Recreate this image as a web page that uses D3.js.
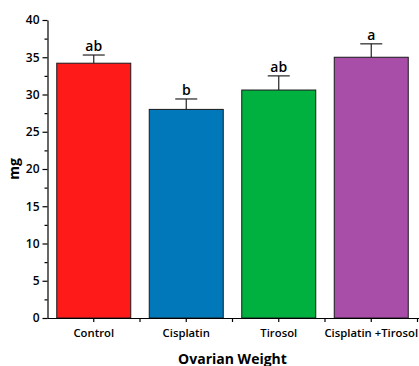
<!DOCTYPE html>
<html>
<head>
<meta charset="utf-8">
<script src="https://cdn.jsdelivr.net/npm/d3@7"></script>
<style>
  html, body { margin: 0; padding: 0; background: #fff; }
  svg { display: block; }
  text { font-family: "Open Sans", "Noto Sans", sans-serif; fill: #000; }
</style>
</head>
<body>
<svg id="chart" width="419" height="366"></svg>
<script>
// Ovarian weight (mg) per treatment group, mean and upper error
const groups = ["Control", "Cisplatin", "Tirosol", "Cisplatin +Tirosol"];
const means = [34.2, 28.0, 30.6, 35.0];
const errors = [1.1, 1.4, 1.9, 1.8];
const letters = ["ab", "b", "ab", "a"];
const colors = ["#ff1a1a", "#0078ba", "#00b140", "#a94ea8"];
const yTicks = [0, 5, 10, 15, 20, 25, 30, 35, 40];
const yMinorTicks = [2.5, 7.5, 12.5, 17.5, 22.5, 27.5, 32.5, 37.5];

const svg = d3.select("#chart");
const x0 = 47.5, x1 = 417.5, yTop = 20, yBottom = 318;

const x = d3.scaleBand().domain(groups).range([x0, x1]).paddingInner(0.2).paddingOuter(0.1);
const y = d3.scaleLinear().domain([0, 40]).range([yBottom, yTop]);

// Bars
svg.append("g").selectAll("rect").data(groups).join("rect")
  .attr("x", d => x(d))
  .attr("y", (d, i) => y(means[i]))
  .attr("width", x.bandwidth())
  .attr("height", (d, i) => y(0) - y(means[i]))
  .attr("fill", (d, i) => colors[i])
  .attr("stroke", "#1a1a1a")
  .attr("stroke-width", 1);

// Error bars (upper only)
const eb = svg.append("g").attr("stroke", "#222").attr("stroke-width", 1.2);
groups.forEach((g, i) => {
  const cx = x(g) + x.bandwidth() / 2;
  eb.append("line").attr("x1", cx).attr("x2", cx)
    .attr("y1", y(means[i])).attr("y2", y(means[i] + errors[i]));
  eb.append("line").attr("x1", cx - 11).attr("x2", cx + 11)
    .attr("y1", y(means[i] + errors[i])).attr("y2", y(means[i] + errors[i]));
});

// Significance letters
svg.append("g").selectAll("text").data(groups).join("text")
  .attr("x", d => x(d) + x.bandwidth() / 2)
  .attr("y", (d, i) => y(means[i] + errors[i]) - 4)
  .attr("text-anchor", "middle")
  .attr("font-size", 14)
  .attr("font-weight", 600)
  .text((d, i) => letters[i]);

// Y axis
const yAxis = svg.append("g").attr("transform", `translate(${x0},0)`)
  .call(d3.axisLeft(y).tickValues(yTicks).tickSize(5).tickPadding(3).tickSizeOuter(0));
yAxis.select(".domain").attr("stroke", "#000").attr("stroke-width", 1.2);
yAxis.selectAll(".tick line").attr("stroke", "#000").attr("stroke-width", 1.2);
yAxis.selectAll(".tick text").attr("font-size", 12).attr("font-weight", 600)
  .attr("font-family", "'Open Sans', sans-serif");

const yMinor = svg.append("g").attr("transform", `translate(${x0},0)`)
  .call(d3.axisLeft(y).tickValues(yMinorTicks).tickSize(3).tickFormat("").tickSizeOuter(0));
yMinor.select(".domain").remove();
yMinor.selectAll(".tick line").attr("stroke", "#000").attr("stroke-width", 1.2);

// X axis: major ticks at group centres, minor ticks at band boundaries
const xAxis = svg.append("g").attr("transform", `translate(0,${yBottom})`)
  .call(d3.axisBottom(x).tickSize(4).tickPadding(5).tickSizeOuter(0));
xAxis.select(".domain").attr("stroke", "#000").attr("stroke-width", 1.2)
  .attr("d", `M${x0},0.5H${419}`);
xAxis.selectAll(".tick line").attr("stroke", "#000").attr("stroke-width", 1.2);
xAxis.selectAll(".tick text").attr("font-size", 11.3).attr("font-weight", 600)
  .attr("font-family", "'Open Sans', sans-serif").attr("dy", "0.9em");

svg.append("g").selectAll("line").data(groups).join("line")
  .attr("x1", d => x(d) + x.bandwidth() + (x.step() - x.bandwidth()) / 2)
  .attr("x2", d => x(d) + x.bandwidth() + (x.step() - x.bandwidth()) / 2)
  .attr("y1", yBottom).attr("y2", yBottom + 4)
  .attr("stroke", "#000").attr("stroke-width", 1.2);

// Axis titles
svg.append("text")
  .attr("x", (x0 + x1) / 2).attr("y", 363.5)
  .attr("text-anchor", "middle")
  .attr("font-size", 14).attr("font-weight", 700)
  .text("Ovarian Weight");

svg.append("text")
  .attr("transform", `translate(19,${(yTop + yBottom) / 2}) rotate(-90)`)
  .attr("text-anchor", "middle")
  .attr("font-size", 14).attr("font-weight", 700)
  .text("mg");
</script>
</body>
</html>
